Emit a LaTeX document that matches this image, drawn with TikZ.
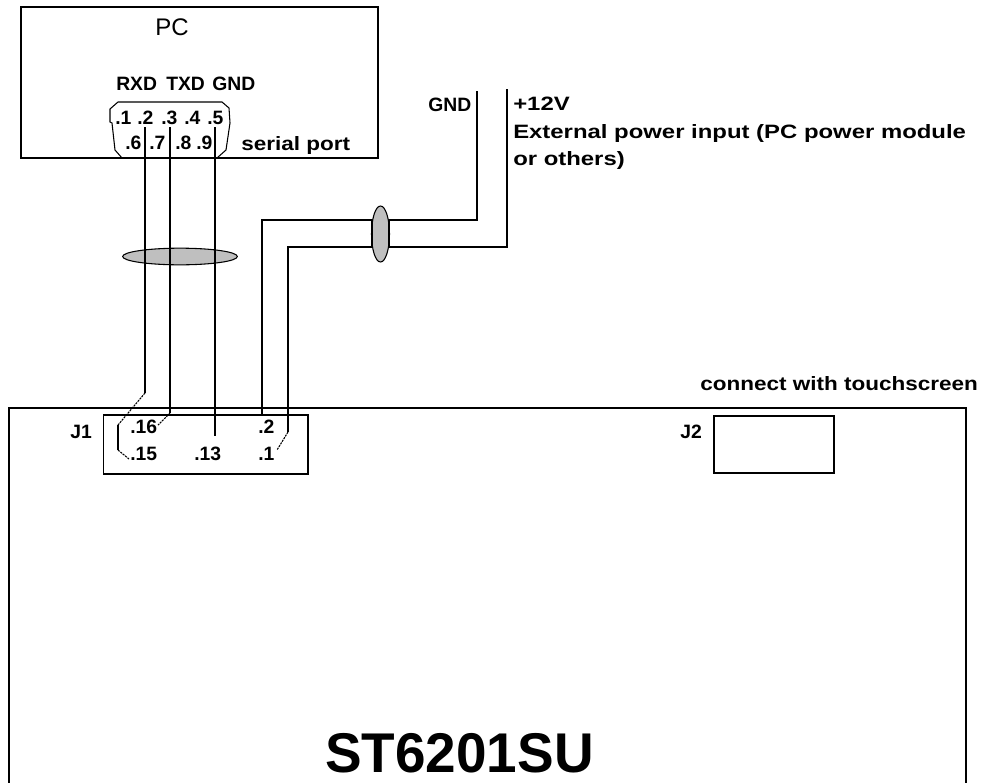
\documentclass[tikz,border=0pt]{standalone}
\usepackage{fontspec}
\setmainfont{Liberation Sans}
\newfontfamily\fcaps[FakeStretch=1.0]{Liberation Sans}
\newfontfamily\fwide[FakeStretch=1.164]{Liberation Sans}
\newfontfamily\fwider[FakeStretch=1.236]{Liberation Sans}
\newfontfamily\ftitle[FakeStretch=0.98]{Liberation Sans}
\usetikzlibrary{shapes.geometric}
\begin{document}
\begin{tikzpicture}[x=0.75pt,y=-0.75pt,
  wire/.style={line width=1.2pt,black},
  fine/.style={line width=0.8pt,black,dash pattern=on 1.6pt off 0.7pt},
  thin outline/.style={line width=0.8pt,black},
  boxn/.style={draw,line width=1.2pt,inner sep=0pt,outer sep=0pt,anchor=north west},
  sleeve/.style={draw=black,line width=0.8pt,fill=black!25,ellipse,inner sep=0pt,outer sep=0pt},
  caps/.style={font=\fcaps\bfseries\fontsize{14.5}{14.5}\selectfont,inner sep=0pt,anchor=base west},
  wide/.style={font=\fwide\bfseries\fontsize{14.5}{14.5}\selectfont,inner sep=0pt,anchor=base west},
  wider/.style={font=\fwider\bfseries\fontsize{14.5}{14.5}\selectfont,inner sep=0pt,anchor=base west}]
\useasboundingbox (0,0) rectangle (981,782);
\clip (0,0) rectangle (981,782);
\fill[white] (0,0) rectangle (981,782);
% boxes
\node[boxn,minimum width=267.75pt,minimum height=113.25pt] (pc) at (21,7) {};
\node[boxn,minimum width=153.4pt,minimum height=44.25pt] (jone) at (103.5,415) {};
\node[boxn,minimum width=90pt,minimum height=42.75pt] (jtwo) at (714,416) {};
\draw[wire] (9,790) -- (9,408) -- (966,408) -- (966,790);
% serial connector
\draw[thin outline] (118,102) -- (222,102) -- (229,108) -- (230,123) -- (226,150) -- (217,158)
  (122,158) -- (115,150) -- (112,123) -- (110,122) -- (110,109) -- (118,102);
\draw[line width=2.2pt] (122,158) -- (217,158);
% end points of the wires
\coordinate (a1) at (145,127); \coordinate (a2) at (145,393);
\coordinate (a3) at (118,425); \coordinate (a4) at (118,450); \coordinate (a5) at (129,459);
\coordinate (b1) at (170,127); \coordinate (b2) at (170,413); \coordinate (b3) at (158,425);
\coordinate (c1) at (215,127); \coordinate (c2) at (215,436);
\coordinate (d1) at (477,91); \coordinate (d2) at (477,220); \coordinate (d3) at (262,220); \coordinate (d4) at (262,415);
\coordinate (e1) at (507,89); \coordinate (e2) at (507,247); \coordinate (e3) at (288,247); \coordinate (e4) at (288,432); \coordinate (e5) at (277,450);
% power wires, under their sleeve
\draw[wire] (d1) -- (d2) -- (d3) -- (d4);
\draw[wire] (e1) -- (e2) -- (e3) -- (e4);
\draw[fine] (e4) -- (e5);
\node[sleeve,minimum width=13.5pt,minimum height=42pt] (s2) at (380.5,234) {};
\draw[wire] (372,220) -- (372,247) (389,220) -- (389,247);
% serial sleeve, under its wires
\node[sleeve,minimum width=86pt,minimum height=12.5pt] (s1) at (180,256.5) {};
\draw[wire] (a1) -- (a2);
\draw[fine] (a2) -- (a3);
\draw[wire] (a3) -- (a4);
\draw[fine] (a4) -- (a5);
\draw[wire] (b1) -- (b2);
\draw[fine] (b2) -- (b3);
\draw[wire] (c1) -- (c2);
% labels
\node[font=\fontsize{18}{18}\selectfont,inner sep=0pt,anchor=center] (tpc) at (172,27) {PC};
\node[caps] (rxd) at (116,90) {RXD};
\node[caps] (txd) at (166,90) {TXD};
\node[caps] (gnd) at (212,90) {GND};
\node[caps] (p1) at (115,124) {.1};
\node[caps] (p2) at (137,124) {.2};
\node[caps] (p3) at (161,124) {.3};
\node[caps] (p4) at (184,124) {.4};
\node[caps] (p5) at (207,124) {.5};
\node[caps] (p6) at (125,149) {.6};
\node[caps] (p7) at (149,149) {.7};
\node[caps] (p8) at (175,149) {.8};
\node[caps] (p9) at (196,149) {.9};
\node[wide] (ser) at (241,150) {serial port};
\node[caps] (pg) at (428,111) {GND};
\node[wider] (pv) at (513,110) {+12V};
\node[wider] (pe) at (513,138) {External power input (PC power module};
\node[wider] (po) at (513,165) {or others)};
\node[wide] (tch) at (700,390) {connect with touchscreen};
\node[caps] (jl) at (70,438) {J1};
\node[caps] (jr) at (680,438) {J2};
\node[caps] (n16) at (130,433) {.16};
\node[caps] (n15) at (130,460) {.15};
\node[caps] (n13) at (194,460) {.13};
\node[caps] (n2) at (258,433) {.2};
\node[caps] (n1) at (258,460) {.1};
\node[font=\ftitle\bfseries\fontsize{42}{42}\selectfont,inner sep=0pt,anchor=base west] (ttl) at (325,772) {ST6201SU};
\end{tikzpicture}
\end{document}
